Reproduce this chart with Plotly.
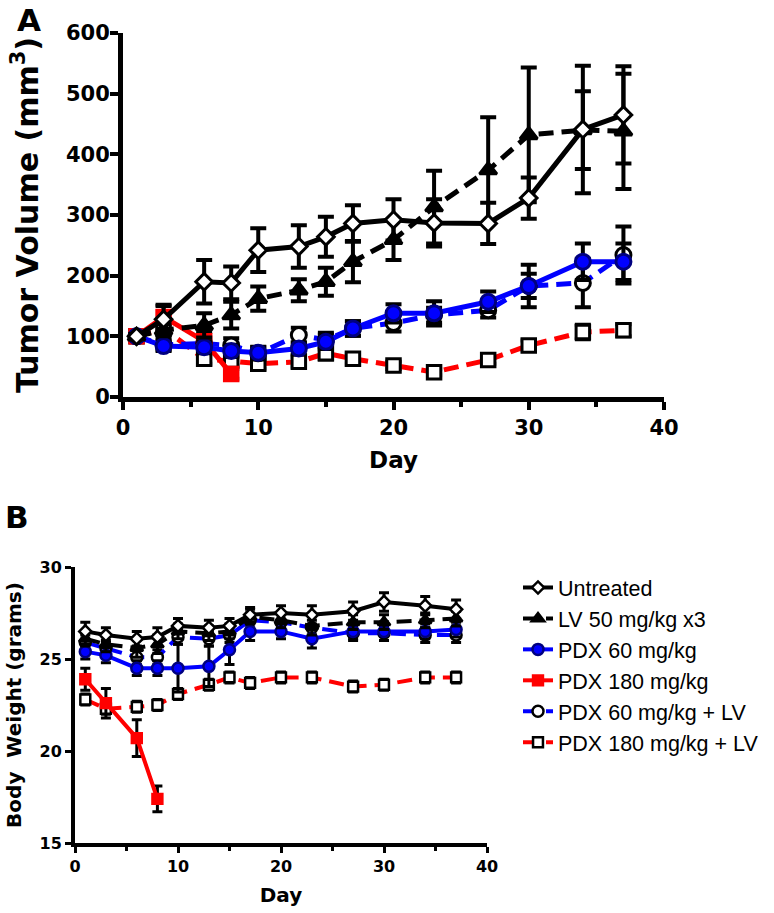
import plotly.graph_objects as go

# ---------------- data ----------------
days = [1, 3, 6, 8, 10, 13, 15, 17, 20, 23, 27, 30, 34, 37]
days_pdx180 = [1, 3, 6, 8]

series_names = ["Untreated", "LV 50 mg/kg x3", "PDX 60 mg/kg", "PDX 180 mg/kg",
                "PDX 60 mg/kg + LV", "PDX 180 mg/kg + LV"]

# Panel A: tumor volume (mm^3)
tv_untreated = [100, 128, 190, 188, 242, 248, 264, 286, 292, 287, 286, 328, 441, 465]
tv_untreated_err = [4, 22, 36, 27, 36, 35, 33, 30, 34, 39, 34, 34, 105, 80]
tv_lv = [100, 110, 118, 135, 162, 176, 190, 223, 259, 313, 374, 432, 440, 438]
tv_lv_err = [4, 10, 20, 22, 20, 18, 23, 34, 33, 60, 87, 111, 64, 95]
tv_pdx60 = [100, 84, 82, 76, 73, 80, 91, 113, 138, 138, 157, 183, 223, 223]
tv_pdx60_err = [3, 8, 10, 10, 10, 10, 12, 12, 15, 20, 17, 35, 30, 30]
tv_pdx180 = [100, 132, 92, 38]
tv_pdx180_err = [3, 20, 15, 8]
tv_pdx60lv = [100, 86, 88, 85, 72, 102, 94, 113, 122, 135, 143, 183, 188, 234]
tv_pdx60lv_err = [3, 8, 10, 12, 10, 12, 12, 12, 14, 12, 12, 20, 40, 47]
tv_pdx180lv = [100, 113, 63, 60, 55, 58, 72, 63, 52, 41, 61, 85, 107, 110]
tv_pdx180lv_err = [3, 10, 8, 8, 8, 8, 10, 8, 6, 5, 6, 8, 12, 10]

# Panel B: body weight (grams)
bw_untreated = [26.5, 26.3, 26.1, 26.2, 26.8, 26.7, 26.8, 27.4, 27.5, 27.4, 27.6, 28.1, 27.9, 27.7]
bw_untreated_err = [0.5, 0.4, 0.4, 0.5, 0.4, 0.4, 0.4, 0.4, 0.4, 0.5, 0.5, 0.5, 0.5, 0.5]
bw_lv = [26.1, 25.8, 25.6, 25.8, 26.5, 26.4, 26.5, 27.3, 27.1, 26.8, 27.0, 27.0, 27.1, 27.2]
bw_lv_err = [0.4, 0.4, 0.5, 0.5, 0.4, 0.4, 0.4, 0.4, 0.4, 0.5, 0.4, 0.4, 0.4, 0.4]
bw_pdx60 = [25.4, 25.2, 24.5, 24.5, 24.5, 24.6, 25.5, 26.5, 26.5, 26.1, 26.5, 26.5, 26.5, 26.6]
bw_pdx60_err = [0.4, 0.4, 0.4, 0.4, 1.3, 1.1, 0.8, 0.5, 0.4, 0.5, 0.4, 0.5, 0.4, 0.4]
bw_pdx180 = [23.9, 22.6, 20.7, 17.4]
bw_pdx180_err = [0.6, 0.8, 1.0, 0.7]
bw_pdx60lv = [25.9, 25.6, 25.1, 25.1, 26.2, 26.1, 26.3, 27.1, 27.0, 26.7, 26.4, 26.4, 26.3, 26.3]
bw_pdx60lv_err = [0.4, 0.4, 0.4, 0.4, 0.4, 0.4, 0.4, 0.4, 0.4, 0.4, 0.4, 0.4, 0.4, 0.4]
bw_pdx180lv = [22.8, 22.3, 22.4, 22.5, 23.1, 23.6, 24.0, 23.7, 24.0, 24.0, 23.5, 23.6, 24.0, 24.0]
bw_pdx180lv_err = [0.3, 0.3, 0.3, 0.3, 0.3, 0.3, 0.3, 0.3, 0.3, 0.3, 0.3, 0.3, 0.3, 0.3]

# ---------------- styles ----------------
BLUE = "#0000ff"
RED = "#ff0000"
DASH = "15px,8px"
styles = {
    "Untreated": dict(color="black", dash="solid", symbol="diamond", fill="white", mline="black"),
    "LV 50 mg/kg x3": dict(color="black", dash=DASH, symbol="triangle-up", fill="black", mline="black"),
    "PDX 60 mg/kg": dict(color=BLUE, dash="solid", symbol="circle", fill=BLUE, mline="#000080"),
    "PDX 180 mg/kg": dict(color=RED, dash="solid", symbol="square", fill=RED, mline=RED),
    "PDX 60 mg/kg + LV": dict(color=BLUE, dash=DASH, symbol="circle", fill="white", mline="black"),
    "PDX 180 mg/kg + LV": dict(color=RED, dash=DASH, symbol="square", fill="white", mline="black"),
}

panelA = {
    "Untreated": (days, tv_untreated, tv_untreated_err),
    "LV 50 mg/kg x3": (days, tv_lv, tv_lv_err),
    "PDX 60 mg/kg": (days, tv_pdx60, tv_pdx60_err),
    "PDX 180 mg/kg": (days_pdx180, tv_pdx180, tv_pdx180_err),
    "PDX 60 mg/kg + LV": (days, tv_pdx60lv, tv_pdx60lv_err),
    "PDX 180 mg/kg + LV": (days, tv_pdx180lv, tv_pdx180lv_err),
}
panelB = {
    "Untreated": (days, bw_untreated, bw_untreated_err),
    "LV 50 mg/kg x3": (days, bw_lv, bw_lv_err),
    "PDX 60 mg/kg": (days, bw_pdx60, bw_pdx60_err),
    "PDX 180 mg/kg": (days_pdx180, bw_pdx180, bw_pdx180_err),
    "PDX 60 mg/kg + LV": (days, bw_pdx60lv, bw_pdx60lv_err),
    "PDX 180 mg/kg + LV": (days, bw_pdx180lv, bw_pdx180lv_err),
}

draw_order = ["PDX 180 mg/kg + LV", "PDX 60 mg/kg + LV", "PDX 180 mg/kg",
              "PDX 60 mg/kg", "LV 50 mg/kg x3", "Untreated"]

fig = go.Figure()

def add(panel, xa, ya, lw, msz, mlw, ew, ecap, legend):
    for name in draw_order:
        x, y, e = panel[name]
        s = styles[name]
        size = msz
        if s["symbol"] == "diamond":
            size = msz * 0.85
        elif s["symbol"] == "square":
            size = msz * 0.9
        fig.add_trace(go.Scatter(
            x=x, y=y, name=name, mode="lines+markers",
            xaxis=xa, yaxis=ya, showlegend=legend,
            legendrank=series_names.index(name) + 1,
            line=dict(color=s["color"], width=lw, dash=s["dash"]),
            marker=dict(symbol=s["symbol"], size=size, color=s["fill"],
                        line=dict(color=s["mline"], width=mlw)),
            error_y=dict(type="data", array=e, visible=True, color="black",
                         thickness=ew, width=ecap),
            cliponaxis=False,
        ))

add(panelA, "x", "y", 5, 15, 3, 4, 8, False)
add(panelB, "x2", "y2", 4, 11, 2.5, 3, 5, True)

W, H = 774, 913
BOLD = "DejaVu Sans, Verdana, sans-serif"
LEG = "Liberation Sans, Arial, sans-serif"

def axis_common(lw, tl, tw, tfs, so=0):
    return dict(showline=True, linecolor="black", linewidth=lw, ticks="outside",
                ticklen=tl, tickwidth=tw, tickcolor="black", showgrid=False,
                zeroline=False, mirror=False, automargin=False, ticklabelstandoff=so,
                tickfont=dict(family=BOLD, size=tfs, color="black", weight="bold"))

fig.update_layout(
    width=W, height=H, margin=dict(l=0, r=0, t=0, b=0, autoexpand=False),
    paper_bgcolor="white", plot_bgcolor="white",
    font=dict(family=BOLD, color="black"),
    xaxis=dict(domain=[123 / W, 664 / W], range=[0, 40], tickvals=[0, 10, 20, 30, 40],
               anchor="y",
               minor=dict(tickvals=[5, 15, 25, 35], ticks="outside", ticklen=5, tickwidth=4, tickcolor="black"),
               title=dict(text="Day", font=dict(family=BOLD, size=23, weight="bold"), standoff=14),
               **axis_common(5, 8, 4, 21, 0)),
    yaxis=dict(domain=[1 - 397 / H, 1 - 33 / H], range=[0, 600], tickvals=[0, 100, 200, 300, 400, 500, 600],
               anchor="x",
               title=dict(text="Tumor Volume (mm<sup>3</sup>)", font=dict(family=BOLD, size=30, weight="bold"), standoff=20),
               **axis_common(5, 8, 4, 21, -4)),
    xaxis2=dict(domain=[75 / W, 487 / W], range=[0, 40], tickvals=[0, 10, 20, 30, 40],
                anchor="y2",
                minor=dict(tickvals=[5, 15, 25, 35], ticks="outside", ticklen=4, tickwidth=3, tickcolor="black"),
                title=dict(text="Day", font=dict(family=BOLD, size=20, weight="bold"), standoff=14),
                **axis_common(4, 6, 3, 16)),
    yaxis2=dict(domain=[1 - 843 / H, 1 - 567 / H], range=[15, 30], tickvals=[15, 20, 25, 30],
                anchor="x2",
                title=dict(text="Body\u00a0 Weight (grams)", font=dict(family=BOLD, size=20, weight="bold"), standoff=14),
                **axis_common(4, 6, 3, 16)),
    legend=dict(x=518 / W, y=1 - 567 / H, xanchor="left", yanchor="top",
                font=dict(family=LEG, size=21.5, color="black"),
                bgcolor="rgba(0,0,0,0)", traceorder="normal"),
    annotations=[
        dict(text="A", x=29 / W, y=1 - 20 / H, xref="paper", yref="paper", showarrow=False,
             font=dict(family=BOLD, size=31, weight="bold"), xanchor="center", yanchor="middle"),
        dict(text="B", x=17 / W, y=1 - 517 / H, xref="paper", yref="paper", showarrow=False,
             font=dict(family=BOLD, size=31, weight="bold"), xanchor="center", yanchor="middle"),
    ],
)

fig.write_html("out.html", config={"displayModeBar": False},
               post_script="document.body.style.margin='0px';")
